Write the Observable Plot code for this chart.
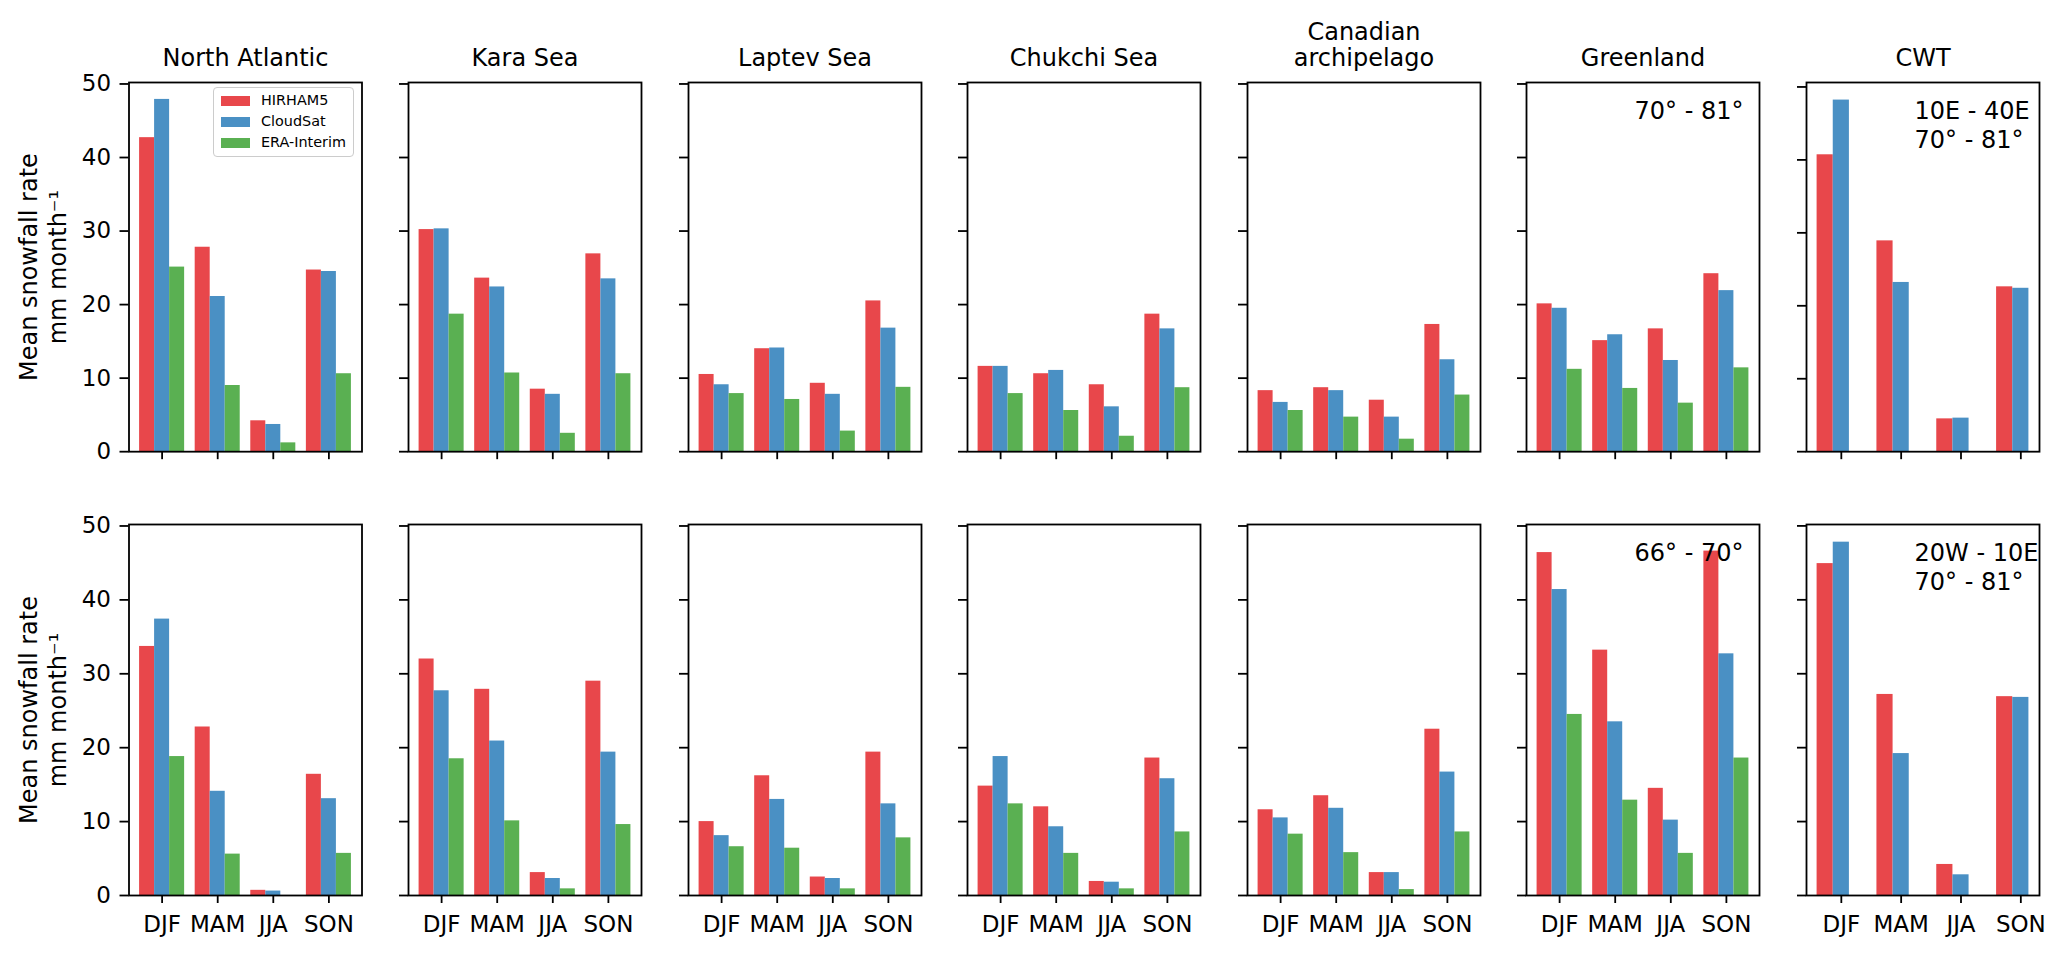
<!DOCTYPE html>
<html>
<head>
<meta charset="utf-8">
<script src="https://cdn.jsdelivr.net/npm/d3@7"></script>
<script src="https://cdn.jsdelivr.net/npm/@observablehq/plot@0.6"></script>
<style>
  html, body { margin: 0; padding: 0; background: #ffffff; }
  #chart { position: relative; width: 2067px; height: 955px; overflow: hidden; font-family: "DejaVu Sans", sans-serif; color: #000; }
  .panel { position: absolute; }
  .panel svg { max-width: none; overflow: visible; display: block; }
  .legend { position: absolute; box-sizing: border-box; border: 1px solid #cccccc; border-radius: 4px; background: rgba(255,255,255,0.8); }
  .legend .sw { position: absolute; }
  .legend .lab { position: absolute; font-size: 14.4px; line-height: 1; white-space: nowrap; }
</style>
</head>
<body>
<div id="chart"></div>
<script>
// ---------------- data ----------------
const seasons = ["DJF", "MAM", "JJA", "SON"];
const series = ["HIRHAM5", "CloudSat", "ERA-Interim"];
const regions = ["North Atlantic", "Kara Sea", "Laptev Sea", "Chukchi Sea", "Canadian\narchipelago", "Greenland", "CWT"];
const seasonTicks = [0, 1, 2, 3];
const yTicks = [0, 10, 20, 30, 40, 50];
const yLabel = "Mean snowfall rate\nmm month⁻¹";

// top row: one list per region, values for DJF, MAM, JJA, SON
const topHIRHAM5 = [
  [42.7, 27.8, 4.2, 24.7],
  [30.2, 23.6, 8.5, 26.9],
  [10.5, 14.0, 9.3, 20.5],
  [11.6, 10.6, 9.1, 18.7],
  [8.3, 8.7, 7.0, 17.3],
  [20.1, 15.1, 16.7, 24.2],
  [40.7, 28.9, 4.5, 22.6]
];
const topCloudSat = [
  [47.9, 21.1, 3.7, 24.5],
  [30.3, 22.4, 7.8, 23.5],
  [9.1, 14.1, 7.8, 16.8],
  [11.6, 11.05, 6.1, 16.7],
  [6.7, 8.3, 4.7, 12.5],
  [19.5, 15.9, 12.4, 21.9],
  [48.2, 23.2, 4.6, 22.4]
];
const topERAInterim = [
  [25.1, 9.0, 1.2, 10.6],
  [18.7, 10.7, 2.5, 10.6],
  [7.9, 7.1, 2.8, 8.75],
  [7.9, 5.6, 2.1, 8.7],
  [5.6, 4.7, 1.7, 7.7],
  [11.2, 8.6, 6.6, 11.4],
  [null, null, null, null]
];
// bottom row
const bottomHIRHAM5 = [
  [33.7, 22.8, 0.7, 16.4],
  [32.0, 27.9, 3.1, 29.0],
  [10.0, 16.2, 2.5, 19.4],
  [14.8, 12.0, 1.9, 18.6],
  [11.6, 13.5, 3.1, 22.5],
  [46.4, 33.2, 14.5, 46.6],
  [44.9, 27.2, 4.2, 26.9]
];
const bottomCloudSat = [
  [37.4, 14.1, 0.6, 13.1],
  [27.7, 20.9, 2.3, 19.4],
  [8.1, 13.0, 2.3, 12.4],
  [18.8, 9.3, 1.8, 15.8],
  [10.5, 11.8, 3.1, 16.7],
  [41.4, 23.5, 10.2, 32.7],
  [47.8, 19.2, 2.8, 26.8]
];
const bottomERAInterim = [
  [18.8, 5.6, null, 5.7],
  [18.5, 10.1, 0.9, 9.6],
  [6.6, 6.4, 0.9, 7.8],
  [12.4, 5.7, 0.9, 8.6],
  [8.3, 5.8, 0.8, 8.6],
  [24.5, 12.9, 5.7, 18.6],
  [null, null, null, null]
];
const notesTop = [null, null, null, null, null, "70° - 81°", "10E - 40E\n70° - 81°"];
const notesBottom = [null, null, null, null, null, "66° - 70°", "20W - 10E\n70° - 81°"];

// ---------------- styling / layout ----------------
const colors = ["#e8474b", "#4a90c4", "#5ab052"];
const barWidth = 0.27;
const sharedYMax = 50.2;          // panels sharing the y axis
const independentY = ["CWT"];      // autoscaled panels
const frameLeft0 = 128.5, pitch = 279.5, frameW = 233;
const frameTops = [81.5, 524.3], frameHs = [369.2, 371];
const font = "DejaVu Sans";

const rows = [
  {values: [topHIRHAM5, topCloudSat, topERAInterim], notes: notesTop},
  {values: [bottomHIRHAM5, bottomCloudSat, bottomERAInterim], notes: notesBottom}
];

const chart = document.getElementById("chart");

rows.forEach((row, r) => {
  regions.forEach((region, c) => {
    const bars = [];
    seasons.forEach((s, i) => {
      series.forEach((name, k) => {
        const v = row.values[k][c][i];
        if (v == null) return;
        const center = i + (k - 1) * barWidth;
        bars.push({season: s, series: name, value: v, x1: center - barWidth / 2, x2: center + barWidth / 2});
      });
    });
    const xmin = d3.min(bars, d => d.x1), xmax = d3.max(bars, d => d.x2);
    const pad = 0.05 * (xmax - xmin);
    const ymax = independentY.includes(region) ? d3.max(bars, d => d.value) * 1.05 : sharedYMax;

    const mL = c === 0 ? frameLeft0 : 20;
    const mR = 12;
    const mT = r === 0 ? 78 : 40;
    const mB = r === 1 ? 58 : 26;
    const frameLeft = frameLeft0 + c * pitch;
    const frameTop = frameTops[r], frameH = frameHs[r];

    const marks = [
      Plot.rectY(bars, {x1: "x1", x2: "x2", y1: 0, y2: "value", fill: "series", inset: 0}),
      Plot.axisX({ticks: seasonTicks, tickFormat: i => (r === 1 ? seasons[i] : ""), tickSize: 8, tickPadding: 12,
                  fontSize: 23, strokeWidth: 1.8, label: null}),
      Plot.axisY({ticks: yTicks, tickFormat: c === 0 ? (d => String(d)) : (() => ""), tickSize: 9, tickPadding: 9,
                  fontSize: 23, strokeWidth: 1.8, label: null}),
      Plot.frame({stroke: "black", strokeWidth: 1.8})
    ];
    if (r === 0) {
      marks.push(Plot.text([region], {text: d => d, frameAnchor: "top", lineAnchor: "bottom", dy: -16,
                                      fontSize: 24, lineHeight: 1.11, fill: "black"}));
    }
    if (row.notes[c]) {
      marks.push(Plot.text([row.notes[c]], {text: d => d, frameAnchor: "top-left", textAnchor: "start", lineAnchor: "top",
                                            dx: 108, dy: 15.5, fontSize: 24, lineHeight: 1.225, fill: "black"}));
    }
    if (c === 0) {
      marks.push(Plot.text([yLabel], {text: d => d, frameAnchor: "left", rotate: -90, textAnchor: "middle",
                                      lineAnchor: "middle", dx: -86.7, fontSize: 24, lineHeight: 1.18, fill: "black"}));
    }

    const svg = Plot.plot({
      width: mL + frameW + mR,
      height: mT + frameH + mB,
      marginLeft: mL, marginRight: mR, marginTop: mT, marginBottom: mB,
      x: {domain: [xmin - pad, xmax + pad], label: null},
      y: {domain: [0, ymax], label: null},
      color: {domain: series, range: colors},
      style: {fontFamily: font, fontSize: "23px", background: "transparent", color: "black", overflow: "visible"},
      marks
    });
    const div = document.createElement("div");
    div.className = "panel";
    div.style.left = (frameLeft - mL) + "px";
    div.style.top = (frameTop - mT) + "px";
    div.appendChild(svg);
    chart.appendChild(div);
  });
});

// legend (upper right of the first panel)
const legend = document.createElement("div");
legend.className = "legend";
legend.style.left = "213px";
legend.style.top = "87px";
legend.style.width = "141px";
legend.style.height = "70px";
legend.style.zIndex = 5;
series.forEach((name, k) => {
  const cy = 12.5 + k * 21.3;
  const sw = document.createElement("div");
  sw.className = "sw";
  sw.style.left = "7px";
  sw.style.top = (cy - 5) + "px";
  sw.style.width = "29px";
  sw.style.height = "10px";
  sw.style.background = colors[k];
  const lab = document.createElement("div");
  lab.className = "lab";
  lab.style.left = "47px";
  lab.style.top = (cy - 8) + "px";
  lab.textContent = name;
  legend.appendChild(sw);
  legend.appendChild(lab);
});
chart.appendChild(legend);
</script>
</body>
</html>
